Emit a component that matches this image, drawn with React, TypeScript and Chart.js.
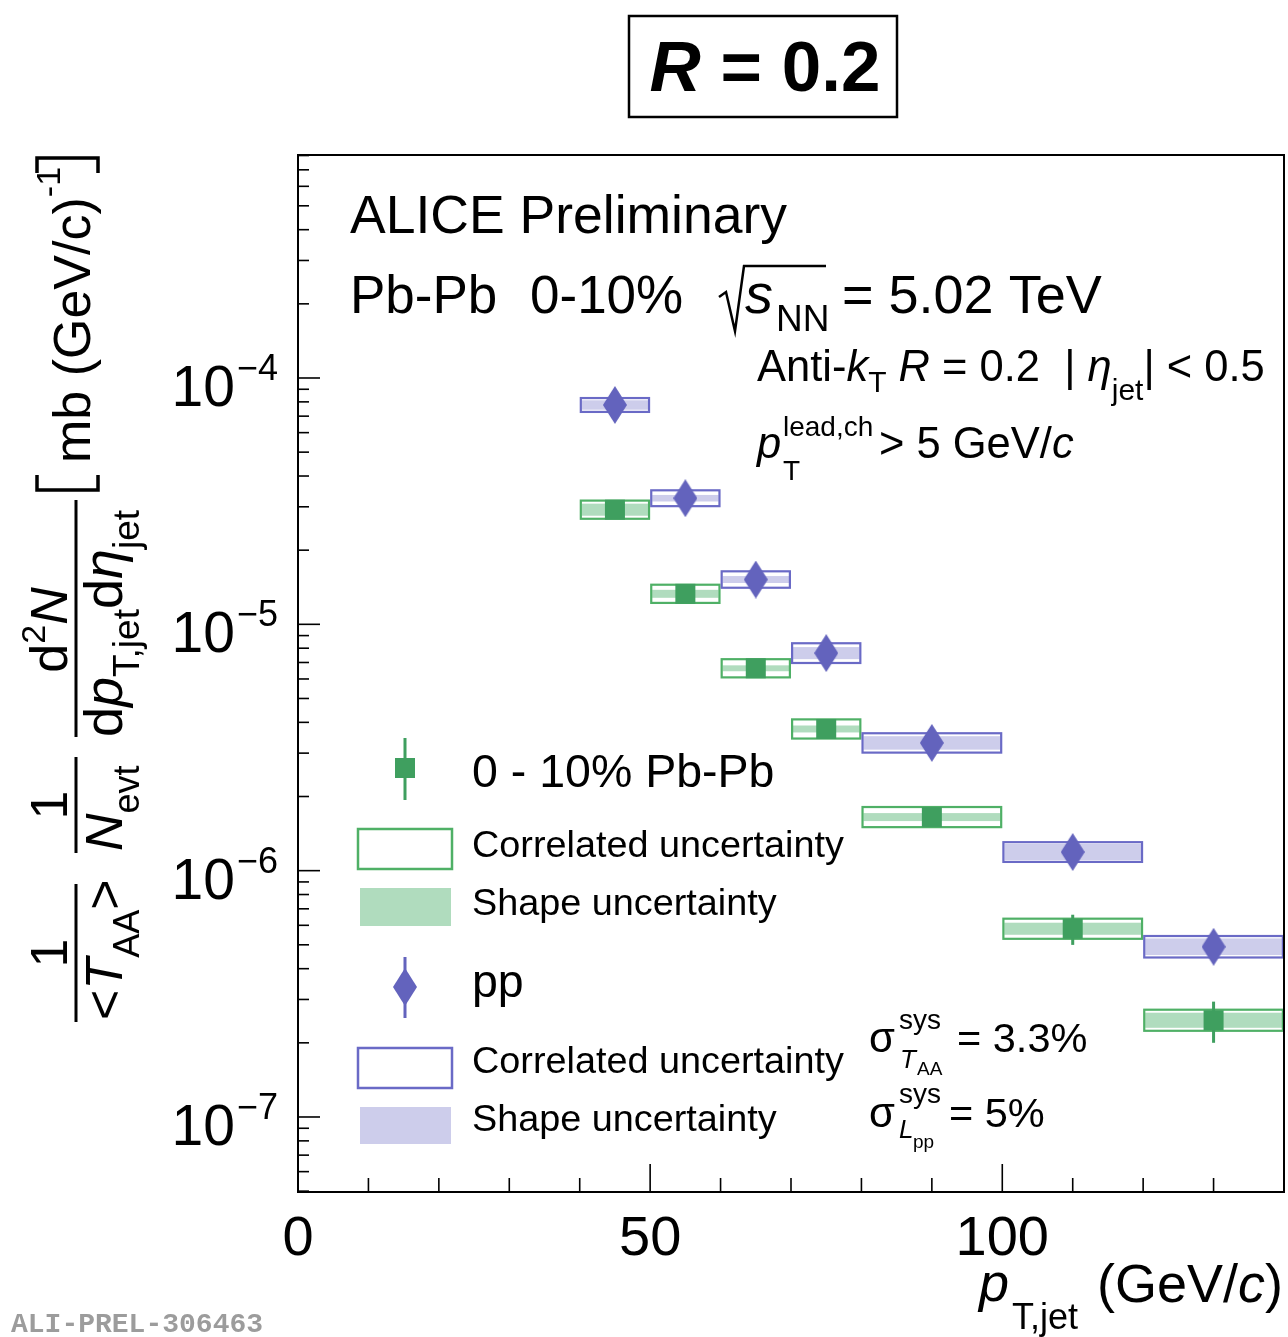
import React, { useEffect, useRef } from "react";
import { Chart, registerables } from "chart.js";
Chart.register(...registerables);

// ---- data ----
const binLow = [40, 50, 60, 70, 80, 100, 120];
const binHigh = [50, 60, 70, 80, 100, 120, 140];
const binCenter = [45, 55, 65, 75, 90, 110, 130];
const pbpbValues = [2.92e-5, 1.33e-5, 6.63e-6, 3.76e-6, 1.65e-6, 5.81e-7, 2.47e-7];
const pbpbStat = [0.02, 0.02, 0.03, 0.04, 0.05, 0.14, 0.19];
const pbpbCorr = [0.1, 0.1, 0.1, 0.105, 0.11, 0.11, 0.115];
const pbpbShape = [0.058, 0.038, 0.028, 0.033, 0.038, 0.058, 0.073];
const ppValues = [7.77e-5, 3.25e-5, 1.52e-5, 7.64e-6, 3.3e-6, 1.19e-6, 4.91e-7];
const ppStat = [0.01, 0.01, 0.01, 0.02, 0.03, 0.05, 0.08];
const ppCorr = [0.078, 0.088, 0.091, 0.108, 0.106, 0.108, 0.117];
const ppShape = [0.045, 0.031, 0.033, 0.058, 0.065, 0.078, 0.081];
const xMajorTicks = [0, 50, 100];
const xMinorStep = 10;
const yDecades = [-7, -6, -5, -4];
const X_MIN = 0;
const X_MAX = 140;
const Y_MIN = 4.96e-8;
const Y_MAX = 8.04e-4;

// ---- styles ----
const AREA = { left: 298, top: 155, right: 1284, bottom: 1192 };
const GREEN = "#3f9f5f";
const GREEN_BOX = "#4fb066";
const GREEN_FILL = "rgba(150,208,168,0.75)";
const BLUE = "#6363bd";
const BLUE_BOX = "#6a6ac6";
const BLUE_FILL = "rgba(196,196,232,0.85)";
const FONT = '"Liberation Sans", Arial, Helvetica, sans-serif';
const F = (size: number, style = "") => `${style} ${size}px ${FONT}`;

type Run = { t: string; f: string; dy?: number };

function runsWidth(ctx: CanvasRenderingContext2D, runs: Run[]) {
  let w = 0;
  for (const r of runs) {
    ctx.font = r.f;
    w += ctx.measureText(r.t).width;
  }
  return w;
}
function drawRuns(ctx: CanvasRenderingContext2D, x: number, y: number, runs: Run[]) {
  let cx = x;
  for (const r of runs) {
    ctx.font = r.f;
    ctx.fillText(r.t, cx, y + (r.dy || 0));
    cx += ctx.measureText(r.t).width;
  }
  return cx;
}
function drawRunsRot(ctx: CanvasRenderingContext2D, baseX: number, startY: number, runs: Run[]) {
  ctx.save();
  ctx.translate(baseX, startY);
  ctx.rotate(-Math.PI / 2);
  drawRuns(ctx, 0, 0, runs);
  ctx.restore();
}
function drawRunsRotCentered(ctx: CanvasRenderingContext2D, baseX: number, centerY: number, runs: Run[]) {
  const w = runsWidth(ctx, runs);
  drawRunsRot(ctx, baseX, centerY + w / 2, runs);
}
function vbar(ctx: CanvasRenderingContext2D, x: number, y0: number, y1: number, w = 3) {
  ctx.fillRect(x - w / 2, Math.min(y0, y1), w, Math.abs(y1 - y0));
}

function drawDiamond(ctx: CanvasRenderingContext2D, cx: number, cy: number, w: number, h: number, color: string) {
  ctx.fillStyle = color;
  ctx.beginPath();
  ctx.moveTo(cx, cy - h / 2);
  ctx.lineTo(cx + w / 2, cy);
  ctx.lineTo(cx, cy + h / 2);
  ctx.lineTo(cx - w / 2, cy);
  ctx.closePath();
  ctx.fill();
}

const alicePlugin = {
  id: "alicePlugin",
  beforeDatasetsDraw(chart: any) {
    const ctx: CanvasRenderingContext2D = chart.ctx;
    const xs = chart.scales.x;
    const ys = chart.scales.y;
    const series = [
      { v: pbpbValues, c: pbpbCorr, s: pbpbShape, st: pbpbStat, box: GREEN_BOX, fill: GREEN_FILL, col: GREEN },
      { v: ppValues, c: ppCorr, s: ppShape, st: ppStat, box: BLUE_BOX, fill: BLUE_FILL, col: BLUE },
    ];
    ctx.save();
    for (const sr of series) {
      for (let i = 0; i < sr.v.length; i++) {
        const x0 = xs.getPixelForValue(binLow[i]);
        const x1 = xs.getPixelForValue(binHigh[i]);
        const v = sr.v[i];
        const sy0 = ys.getPixelForValue(v * (1 + sr.s[i]));
        const sy1 = ys.getPixelForValue(v / (1 + sr.s[i]));
        ctx.fillStyle = sr.fill;
        ctx.fillRect(x0 + 2, sy0, x1 - x0 - 4, sy1 - sy0);
        const cy0 = ys.getPixelForValue(v * (1 + sr.c[i]));
        const cy1 = ys.getPixelForValue(v / (1 + sr.c[i]));
        ctx.strokeStyle = sr.box;
        ctx.lineWidth = 2.2;
        ctx.strokeRect(x0 + 1.1, cy0 + 1.1, x1 - x0 - 2.2, cy1 - cy0 - 2.2);
      }
    }
    for (const sr of series) {
      ctx.fillStyle = sr.col;
      for (let i = 0; i < sr.v.length; i++) {
        const x = xs.getPixelForValue(binCenter[i]);
        const v = sr.v[i];
        vbar(ctx, x, ys.getPixelForValue(v * (1 + sr.st[i])), ys.getPixelForValue(v * (1 - sr.st[i])), 3);
      }
    }
    ctx.restore();
  },
  afterDraw(chart: any) {
    const ctx: CanvasRenderingContext2D = chart.ctx;
    const xs = chart.scales.x;
    const ys = chart.scales.y;
    const a = chart.chartArea;
    ctx.save();
    // frame
    ctx.strokeStyle = "#000";
    ctx.lineWidth = 2;
    ctx.strokeRect(a.left, a.top, a.right - a.left, a.bottom - a.top);
    // x ticks
    ctx.lineWidth = 1.6;
    for (let v = X_MIN; v <= X_MAX; v += xMinorStep) {
      const x = xs.getPixelForValue(v);
      const len = xMajorTicks.includes(v) ? 28 : 14;
      ctx.beginPath();
      ctx.moveTo(x, a.bottom);
      ctx.lineTo(x, a.bottom - len);
      ctx.stroke();
    }
    // y ticks (log)
    for (let k = -8; k <= -3; k++) {
      for (let m = 1; m <= 9; m++) {
        const v = m * Math.pow(10, k);
        if (v < Y_MIN || v > Y_MAX) continue;
        const y = ys.getPixelForValue(v);
        const len = m === 1 ? 22 : 11;
        ctx.beginPath();
        ctx.moveTo(a.left, y);
        ctx.lineTo(a.left + len, y);
        ctx.stroke();
      }
    }
    ctx.fillStyle = "#000";
    // x tick labels
    ctx.textAlign = "center";
    ctx.font = F(56);
    for (const v of xMajorTicks) {
      ctx.fillText(String(v), xs.getPixelForValue(v), 1255);
    }
    // y tick labels
    ctx.textAlign = "left";
    for (const k of yDecades) {
      const y = ys.getPixelForValue(Math.pow(10, k));
      const sup = "\u2212" + Math.abs(k);
      ctx.font = F(36);
      const ws = ctx.measureText(sup).width;
      ctx.fillText(sup, 278 - ws, y + 2);
      ctx.font = F(57);
      const w10 = ctx.measureText("10").width;
      ctx.fillText("10", 278 - ws - 2 - w10, y + 28);
    }
    // x axis title
    drawRuns(ctx, 979, 1301, [{ t: "p", f: F(54, "italic") }]);
    drawRuns(ctx, 1012, 1329, [{ t: "T,jet", f: F(36) }]);
    drawRuns(ctx, 1097, 1302, [
      { t: "(GeV/", f: F(54) },
      { t: "c", f: F(54, "italic") },
      { t: ")", f: F(54) },
    ]);

    // y axis title (rotated)
    vbar(ctx, 76, 1022, 884, 3);
    drawRunsRotCentered(ctx, 67, 953, [{ t: "1", f: F(52) }]);
    drawRunsRot(ctx, 122, 1020, [
      { t: "<", f: F(52) },
      { t: "T", f: F(52, "italic") },
      { t: "AA", f: F(36), dy: 17 },
      { t: ">", f: F(52) },
    ]);
    vbar(ctx, 76, 853, 757, 3);
    drawRunsRotCentered(ctx, 67, 805, [{ t: "1", f: F(52) }]);
    drawRunsRot(ctx, 122, 851, [
      { t: "N", f: F(52, "italic") },
      { t: "evt", f: F(36), dy: 17 },
    ]);
    vbar(ctx, 76, 737, 500, 3);
    drawRunsRotCentered(ctx, 67, 630, [
      { t: "d", f: F(52) },
      { t: "2", f: F(34), dy: -22 },
      { t: "N", f: F(52, "italic") },
    ]);
    drawRunsRot(ctx, 122, 737, [
      { t: "d", f: F(54) },
      { t: "p", f: F(54, "italic") },
      { t: "T,jet", f: F(37), dy: 17 },
      { t: "d", f: F(54) },
      { t: "\u03b7", f: F(54, "italic") },
      { t: "jet", f: F(37), dy: 17 },
    ]);
    // [mb (GeV/c)^-1]
    ctx.lineWidth = 3.5;
    ctx.beginPath();
    ctx.moveTo(37, 475);
    ctx.lineTo(37, 490);
    ctx.lineTo(98, 490);
    ctx.lineTo(98, 475);
    ctx.stroke();
    drawRunsRot(ctx, 90, 463, [
      { t: "mb (GeV/c)", f: F(52) },
      { t: "-1", f: F(34), dy: -30 },
    ]);
    ctx.beginPath();
    ctx.moveTo(37, 173);
    ctx.lineTo(37, 158);
    ctx.lineTo(98, 158);
    ctx.lineTo(98, 173);
    ctx.stroke();

    // title box
    ctx.lineWidth = 2.5;
    ctx.strokeRect(629, 16, 268, 101);
    {
      const runs: Run[] = [
        { t: "R", f: F(71, "italic bold") },
        { t: " = 0.2", f: F(71, "bold") },
      ];
      const w = runsWidth(ctx, runs);
      drawRuns(ctx, 765 - w / 2, 91, runs);
    }

    // header texts
    drawRuns(ctx, 350, 233, [{ t: "ALICE Preliminary", f: F(53.5) }]);
    drawRuns(ctx, 350, 313, [{ t: "Pb-Pb", f: F(53) }]);
    drawRuns(ctx, 530, 313, [{ t: "0-10%", f: F(53) }]);
    drawRuns(ctx, 745, 313, [{ t: "s", f: F(56, "italic") }]);
    drawRuns(ctx, 776, 331, [{ t: "NN", f: F(37) }]);
    drawRuns(ctx, 842, 313, [{ t: "= 5.02 TeV", f: F(54) }]);
    ctx.lineWidth = 2.5;
    ctx.beginPath();
    ctx.moveTo(719, 297);
    ctx.lineTo(726, 292);
    ctx.lineTo(735, 331);
    ctx.lineTo(744, 266);
    ctx.lineTo(826, 266);
    ctx.stroke();

    drawRuns(ctx, 757, 381, [
      { t: "Anti-", f: F(43.5) },
      { t: "k", f: F(43.5, "italic") },
      { t: "T", f: F(30), dy: 11 },
      { t: " ", f: F(43.5) },
      { t: "R", f: F(43.5, "italic") },
      { t: " = 0.2  | ", f: F(43.5) },
      { t: "\u03b7", f: F(43.5, "italic") },
      { t: "jet", f: F(30), dy: 19 },
      { t: "| < 0.5", f: F(43.5) },
    ]);
    drawRuns(ctx, 757, 458, [{ t: "p", f: F(43.5, "italic") }]);
    drawRuns(ctx, 783, 436, [{ t: "lead,ch", f: F(28) }]);
    drawRuns(ctx, 783, 480, [{ t: "T", f: F(28) }]);
    drawRuns(ctx, 879, 458, [
      { t: "> 5 GeV/", f: F(43.5) },
      { t: "c", f: F(43.5, "italic") },
    ]);

    // legend
    ctx.fillStyle = GREEN;
    vbar(ctx, 405, 738, 800, 3);
    ctx.fillRect(395, 758, 20, 20);
    ctx.strokeStyle = GREEN_BOX;
    ctx.lineWidth = 2.5;
    ctx.strokeRect(358, 829, 94, 40);
    ctx.fillStyle = GREEN_FILL;
    ctx.fillRect(360, 888, 91, 38);
    ctx.fillStyle = BLUE;
    vbar(ctx, 405, 957, 1018, 3);
    drawDiamond(ctx, 405, 987, 24, 38, BLUE);
    ctx.strokeStyle = BLUE_BOX;
    ctx.strokeRect(358, 1048, 94, 40);
    ctx.fillStyle = BLUE_FILL;
    ctx.fillRect(360, 1107, 91, 37);

    ctx.fillStyle = "#000";
    drawRuns(ctx, 472, 787, [{ t: "0 - 10% Pb-Pb", f: F(46.5) }]);
    drawRuns(ctx, 472, 857, [{ t: "Correlated uncertainty", f: F(37.8) }]);
    drawRuns(ctx, 472, 915, [{ t: "Shape uncertainty", f: F(37.8) }]);
    drawRuns(ctx, 472, 997, [{ t: "pp", f: F(46.5) }]);
    drawRuns(ctx, 472, 1073, [{ t: "Correlated uncertainty", f: F(37.8) }]);
    drawRuns(ctx, 472, 1131, [{ t: "Shape uncertainty", f: F(37.8) }]);

    // sigma texts
    drawRuns(ctx, 869, 1052, [{ t: "\u03c3", f: F(42) }]);
    drawRuns(ctx, 899, 1029, [{ t: "sys", f: F(28) }]);
    drawRuns(ctx, 900, 1068, [{ t: "T", f: F(26, "italic") }]);
    drawRuns(ctx, 917, 1075, [{ t: "AA", f: F(19) }]);
    drawRuns(ctx, 957, 1052, [{ t: "= 3.3%", f: F(41.5) }]);
    drawRuns(ctx, 869, 1127, [{ t: "\u03c3", f: F(42) }]);
    drawRuns(ctx, 899, 1103, [{ t: "sys", f: F(28) }]);
    drawRuns(ctx, 899, 1138, [{ t: "L", f: F(26, "italic") }]);
    drawRuns(ctx, 913, 1148, [{ t: "pp", f: F(19) }]);
    drawRuns(ctx, 949, 1127, [{ t: "= 5%", f: F(41.5) }]);

    // figure id
    ctx.fillStyle = "#9c9c9c";
    ctx.font = 'bold 28px "Liberation Mono", "DejaVu Sans Mono", monospace';
    ctx.fillText("ALI-PREL-306463", 11, 1332);
    ctx.restore();
  },
};

export default function App() {
  const ref = useRef<HTMLCanvasElement | null>(null);
  useEffect(() => {
    if (!ref.current) return;
    const dia = document.createElement("canvas");
    dia.width = 24;
    dia.height = 38;
    const d = dia.getContext("2d")!;
    drawDiamond(d, 12, 19, 24, 38, BLUE);

    const padding = { left: AREA.left, top: AREA.top, right: 1288 - AREA.right, bottom: 1337 - AREA.bottom };
    const chart = new Chart(ref.current, {
      type: "scatter",
      data: {
        datasets: [
          {
            label: "0 - 10% Pb-Pb",
            data: binCenter.map((x, i) => ({ x, y: pbpbValues[i] })),
            pointStyle: "rect",
            pointRadius: 14.15,
            backgroundColor: GREEN,
            borderWidth: 0,
          },
          {
            label: "pp",
            data: binCenter.map((x, i) => ({ x, y: ppValues[i] })),
            pointStyle: dia as any,
            pointRadius: 12,
            backgroundColor: BLUE,
            borderWidth: 0,
          },
        ],
      },
      options: {
        animation: false,
        responsive: false,
        maintainAspectRatio: false,
        layout: { padding, autoPadding: false },
        plugins: { legend: { display: false }, tooltip: { enabled: false } },
        scales: {
          x: { type: "linear", min: X_MIN, max: X_MAX, display: false },
          y: { type: "logarithmic", min: Y_MIN, max: Y_MAX, display: false },
        },
      },
      plugins: [alicePlugin],
    });
    return () => chart.destroy();
  }, []);
  return (
    <div style={{ position: "absolute", left: 0, top: 0, width: 1288, height: 1337, background: "#fff" }}>
      <canvas ref={ref} width={1288} height={1337} style={{ display: "block" }} />
    </div>
  );
}
